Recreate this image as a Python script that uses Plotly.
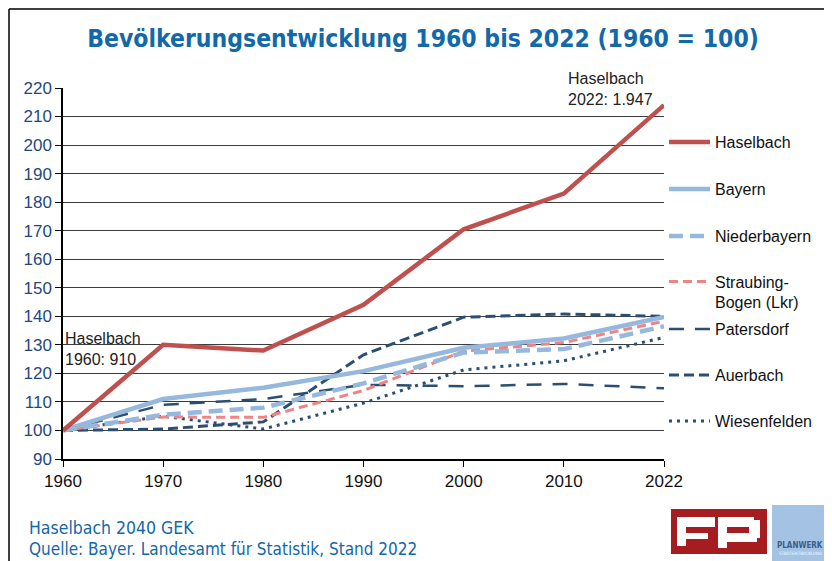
import plotly.graph_objects as go

years = ["1960", "1970", "1980", "1990", "2000", "2010", "2022"]

haselbach = [100, 130, 128, 144, 170.5, 183, 214]
bayern = [100, 111, 115, 120.8, 129, 132.2, 139.8]
niederbayern = [100, 105.5, 108, 116.5, 127.3, 128.5, 136.5]
straubing_bogen = [100, 104.7, 104.6, 114, 127.8, 130.8, 138.3]
patersdorf = [100, 109, 111, 116, 115.5, 116.3, 114.8]
auerbach = [100, 100.5, 103, 126.5, 139.7, 140.8, 140]
wiesenfelden = [100, 105, 100.5, 109.6, 121.2, 124.4, 132.6]

# the page body has an 8px margin, so the figure starts at (8, 8) on screen
OFF = 8
W, H = 832 - OFF, 561 - OFF
# plot area in screen pixels
L, R, T, B = 63, 664, 88, 459


def px_x(p):
    return (p - L) / (R - L)


def px_y(p):
    return (B - p) / (B - T)


BLUE = "#1268A8"
TEXT = "Liberation Sans"
NARROW = "DejaVu Sans Condensed"

series = [
    # name, values, colour, width, dash, legend y (px)
    ("Haselbach", haselbach, "#C0504D", 4.5, "solid", 142),
    ("Bayern", bayern, "#95B8DC", 4.5, "solid", 189),
    ("Niederbayern", niederbayern, "#95B8DC", 4.5, "14px,7px", 236),
    ("Straubing-<br>Bogen (Lkr)", straubing_bogen, "#EE8584", 3, "9px,5px", 292),
    ("Patersdorf", patersdorf, "#2B4F73", 2.5, "15px,11px", 329),
    ("Auerbach", auerbach, "#2B4F73", 3, "10px,5px", 375),
    ("Wiesenfelden", wiesenfelden, "#2B4F73", 3, "3px,5px", 421),
]

fig = go.Figure()

for i, (name, vals, color, width, dash, ly) in reversed(list(enumerate(series))):
    key = "legend" if i == 0 else f"legend{i + 1}"
    fig.add_trace(
        go.Scatter(
            x=years,
            y=vals,
            name=name,
            mode="lines",
            line=dict(color=color, width=width, dash=dash),
            legend=key,
        )
    )
    fig.update_layout(
        {
            key: dict(
                x=px_x(664),
                xanchor="left",
                y=px_y(ly),
                yanchor="middle",
                valign="top",
                font=dict(family=TEXT, size=16, color="#111111"),
                bgcolor="rgba(0,0,0,0)",
                itemwidth=41,
            )
        }
    )

fig.update_layout(
    width=W,
    height=H,
    showlegend=True,
    margin=dict(l=L - OFF, r=832 - R, t=T - OFF, b=561 - B),
    paper_bgcolor="white",
    plot_bgcolor="white",
    title=dict(
        text="Bevölkerungsentwicklung 1960 bis 2022 (1960 = 100)",
        x=(423 - OFF) / W,
        xanchor="center",
        y=1 - (38 - OFF) / H,
        yanchor="middle",
        font=dict(family=NARROW, size=24.5, color=BLUE, weight="bold"),
    ),
    xaxis=dict(
        type="category",
        range=[0, 6],
        showgrid=False,
        showline=True,
        linecolor="black",
        linewidth=1.5,
        ticks="outside",
        ticklen=6,
        tickcolor="black",
        tickfont=dict(family=TEXT, size=17, color="#111111"),
    ),
    yaxis=dict(
        range=[90, 220],
        dtick=10,
        showgrid=True,
        gridcolor="#3c3c3c",
        gridwidth=1,
        zeroline=False,
        showline=True,
        linecolor="black",
        linewidth=1.5,
        ticks="outside",
        ticklen=6,
        tickcolor="black",
        tickfont=dict(family=TEXT, size=17, color="#1F497D"),
    ),
    hovermode=False,
)


def paper_rect(x0, x1, y0, y1, color):
    fig.add_shape(type="rect", xref="paper", yref="paper",
                  x0=px_x(x0), x1=px_x(x1), y0=px_y(y0), y1=px_y(y1),
                  fillcolor=color, line=dict(width=0))


# frame of the slide
fig.add_shape(type="line", xref="paper", yref="paper",
              x0=px_x(9), x1=px_x(840), y0=px_y(9), y1=px_y(9),
              line=dict(color="black", width=1.5))
fig.add_shape(type="line", xref="paper", yref="paper",
              x0=px_x(9), x1=px_x(9), y0=px_y(9), y1=px_y(570),
              line=dict(color="black", width=1.5))

# point labels
fig.add_annotation(x=0, y=px_y(328), xref="x", yref="paper", xanchor="left", yanchor="top",
                   text="Haselbach<br>1960: 910", showarrow=False, align="left",
                   font=dict(family=TEXT, size=16, color="#222222"))
fig.add_annotation(x=px_x(655), y=px_y(68), xref="paper", yref="paper", xanchor="right", yanchor="top",
                   text="Haselbach<br>2022: 1.947", showarrow=False, align="left",
                   font=dict(family=TEXT, size=16, color="#222222"))

# footer
fig.add_annotation(x=px_x(27), y=px_y(528), xref="paper", yref="paper", xanchor="left", yanchor="middle",
                   text="Haselbach 2040 GEK", showarrow=False,
                   font=dict(family=NARROW, size=17.5, color=BLUE))
fig.add_annotation(x=px_x(27), y=px_y(549), xref="paper", yref="paper", xanchor="left", yanchor="middle",
                   text="Quelle: Bayer. Landesamt für Statistik, Stand 2022", showarrow=False,
                   font=dict(family=NARROW, size=17, color=BLUE))

# FP logo
paper_rect(671, 767, 509, 554, "#A51D20")
paper_rect(677, 686, 517, 546, "white")   # F stem
paper_rect(677, 715, 517, 527, "white")   # F top
paper_rect(677, 708, 533, 539, "white")   # F middle
paper_rect(718, 727, 517, 548, "white")   # P stem
paper_rect(718, 754, 517, 527, "white")   # P top
paper_rect(749, 760, 520, 538, "white")   # P bowl side
paper_rect(727, 757, 533, 542, "white")   # P bowl bottom

# Planwerk logo
paper_rect(772, 828, 505, 561, "#A4C2E4")
fig.add_annotation(x=px_x(800), y=px_y(545), xref="paper", yref="paper", xanchor="center", yanchor="middle",
                   showarrow=False, text="<b>PLANWERK</b>",
                   font=dict(family=NARROW, size=8, color="#3A5F8A"))
fig.add_annotation(x=px_x(800), y=px_y(553), xref="paper", yref="paper", xanchor="center", yanchor="middle",
                   showarrow=False, text="STADTENTWICKLUNG",
                   font=dict(family=NARROW, size=4.5, color="#F4F8FC"))

fig.write_html("out.html")
